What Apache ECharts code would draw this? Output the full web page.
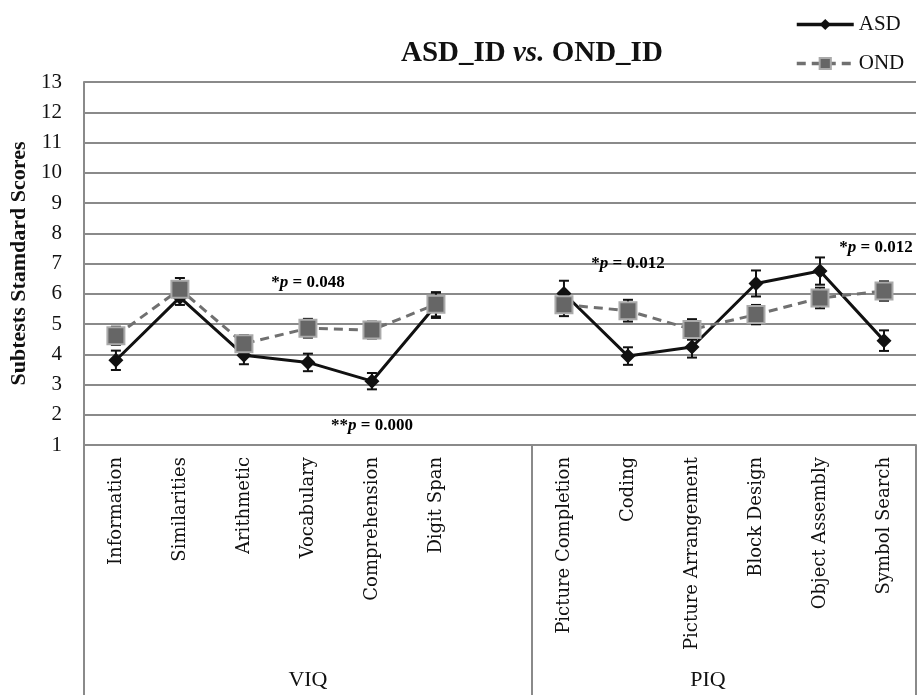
<!DOCTYPE html>
<html lang="en">
<head>
    <meta charset="UTF-8"/>
    <title>ASD_ID vs. OND_ID</title>
    <script src="https://cdn.jsdelivr.net/npm/echarts@6.0.0/dist/echarts.min.js"></script>
    <style>
        html, body {margin: 0; padding: 0; background: #fff;}
        #chart {width: 919px; height: 695px;}
    </style>
</head>
<body>
<div id="chart"></div>
<script type="text/javascript">
    // subtests, one empty slot between the two groups
    var subtests = ["Information", "Similarities", "Arithmetic", "Vocabulary", "Comprehension", "Digit Span", "",
        "Picture Completion", "Coding", "Picture Arrangement", "Block Design", "Object Assembly", "Symbol Search"];
    var asdMean = [3.80, 5.88, 3.97, 3.73, 3.11, 5.62, null, 6.01, 3.94, 4.24, 6.34, 6.75, 4.45];
    var asdErr = [0.32, 0.25, 0.30, 0.29, 0.27, 0.42, null, 0.42, 0.29, 0.35, 0.43, 0.45, 0.34];
    var ondMean = [4.61, 6.15, 4.35, 4.86, 4.80, 5.65, null, 5.64, 5.44, 4.82, 5.31, 5.86, 6.09];
    var ondErr = [0.30, 0.37, 0.28, 0.31, 0.28, 0.40, null, 0.38, 0.36, 0.34, 0.32, 0.34, 0.32];
    var yTicks = [1, 13, 1]; // min, max, step

    // group labels under the subtests
    var groupNames = ["VIQ", "PIQ"];
    var groupCenters = [3.5, 9.75];
    var groupBounds = [0, 7, 13];

    // significance notes
    var noteSlots = [3, 4, 8, 12];
    var noteY = [6.38, 1.64, 7.01, 7.54];
    var noteStars = ["*", "**", "*", "*"];
    var noteP = ["0.048", "0.000", "0.012", "0.012"];

    var serif = "Liberation Serif";

    function errData(mean, err) {
        var out = [];
        for (var i = 0; i < mean.length; i++) {
            if (mean[i] == null) continue;
            out.push([i, mean[i] - err[i], mean[i] + err[i]]);
        }
        return out;
    }

    function renderErr(params, api) {
        var lo = api.coord([api.value(0), api.value(1)]);
        var hi = api.coord([api.value(0), api.value(2)]);
        var w = 5;
        var st = {stroke: "#111", lineWidth: 2};
        return {
            type: "group",
            children: [
                {type: "line", shape: {x1: lo[0], y1: lo[1], x2: hi[0], y2: hi[1]}, style: st},
                {type: "line", shape: {x1: lo[0] - w, y1: lo[1], x2: lo[0] + w, y2: lo[1]}, style: st},
                {type: "line", shape: {x1: hi[0] - w, y1: hi[1], x2: hi[0] + w, y2: hi[1]}, style: st}
            ]
        };
    }

    var notes = [];
    for (var i = 0; i < noteSlots.length; i++) {
        var item = {
            value: [noteSlots[i], noteY[i]],
            label: {formatter: noteStars[i] + "{i|p} = " + noteP[i]}
        };
        if (noteSlots[i] === subtests.length - 1) item.label.offset = [-8, 0];
        notes.push(item);
    }

    var chart = echarts.init(document.getElementById("chart"));
    chart.setOption({
        animation: false,
        title: {
            text: "ASD_ID {i|vs.} OND_ID",
            left: 396,
            top: 34,
            textStyle: {
                fontFamily: serif, fontSize: 29, fontWeight: "bold", color: "#111",
                rich: {i: {fontFamily: serif, fontSize: 29, fontWeight: "bold", fontStyle: "italic", color: "#111"}}
            }
        },
        legend: {
            data: ["ASD", "OND"],
            orient: "vertical",
            left: 790,
            top: 9,
            itemWidth: 57,
            itemHeight: 14,
            itemGap: 18,
            lineStyle: {width: 3.5},
            textStyle: {fontFamily: serif, fontSize: 21, color: "#111"}
        },
        grid: {left: 83, right: 3, top: 82, bottom: 250},
        xAxis: [{
            type: "category",
            data: subtests,
            boundaryGap: true,
            axisLine: {show: true, lineStyle: {color: "#8a8a8a", width: 2}},
            axisTick: {show: false},
            axisLabel: {
                interval: 0, rotate: 90, margin: 12,
                fontFamily: "DejaVu Serif", fontSize: 18, color: "#111"
            },
            splitLine: {show: false}
        }, {
            type: "value",
            min: 0,
            max: 13,
            position: "bottom",
            axisLine: {show: false},
            axisTick: {
                show: true, length: 262, customValues: groupBounds,
                lineStyle: {color: "#8a8a8a", width: 2}
            },
            axisLabel: {
                show: true, margin: 224, customValues: groupCenters,
                fontFamily: serif, fontSize: 22, color: "#111",
                formatter: function (v) {
                    return groupNames[groupCenters.indexOf(v)];
                }
            },
            splitLine: {show: false}
        }],
        yAxis: {
            type: "value",
            min: yTicks[0],
            max: yTicks[1],
            interval: yTicks[2],
            name: "Subtests Stamdard Scores",
            nameLocation: "middle",
            nameGap: 53,
            nameTextStyle: {fontFamily: serif, fontSize: 22, fontWeight: "bold", color: "#111"},
            axisLine: {show: true, lineStyle: {color: "#8a8a8a", width: 2}},
            axisTick: {show: false},
            axisLabel: {margin: 22, fontFamily: serif, fontSize: 21, color: "#111"},
            splitLine: {lineStyle: {color: "#8a8a8a", width: 2}}
        },
        series: [{
            name: "ASD err",
            type: "custom",
            renderItem: renderErr,
            data: errData(asdMean, asdErr),
            encode: {x: 0, y: [1, 2]},
            z: 3
        }, {
            name: "OND err",
            type: "custom",
            renderItem: renderErr,
            data: errData(ondMean, ondErr),
            encode: {x: 0, y: [1, 2]},
            z: 3
        }, {
            name: "ASD",
            type: "line",
            data: asdMean,
            connectNulls: false,
            symbol: "diamond",
            symbolSize: 15,
            lineStyle: {color: "#111", width: 3},
            itemStyle: {color: "#111"},
            z: 4
        }, {
            name: "OND",
            type: "line",
            data: ondMean,
            connectNulls: false,
            symbol: "rect",
            symbolSize: 17,
            lineStyle: {color: "#707070", width: 3, type: [9, 6]},
            itemStyle: {color: "#666", borderColor: "#aaa", borderWidth: 2},
            z: 5
        }, {
            name: "notes",
            type: "scatter",
            data: notes,
            symbolSize: 0,
            silent: true,
            itemStyle: {opacity: 1},
            label: {
                show: true, position: "inside", opacity: 1,
                fontFamily: serif, fontSize: 17, fontWeight: "bold", color: "#000",
                rich: {i: {fontFamily: serif, fontSize: 17, fontWeight: "bold", fontStyle: "italic", color: "#000"}}
            },
            z: 6
        }]
    });
</script>
</body>
</html>
